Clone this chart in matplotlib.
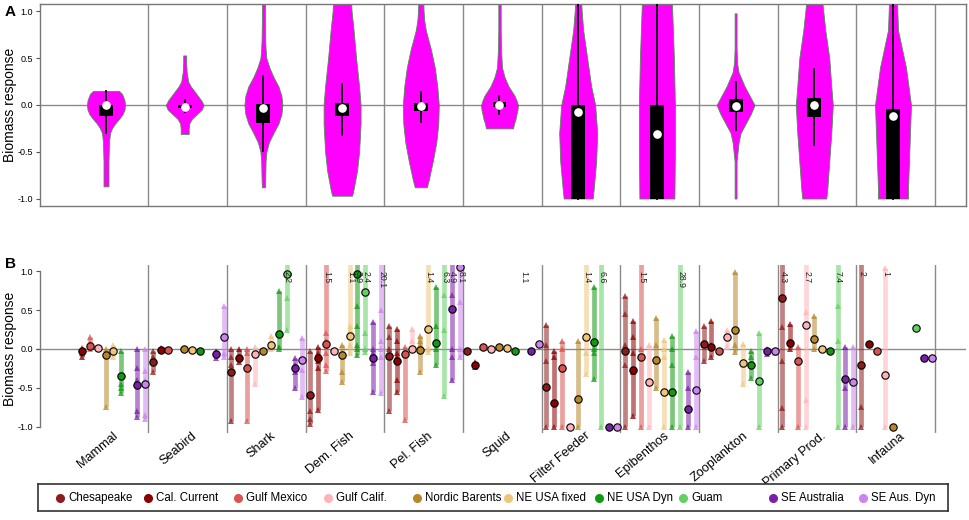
import numpy as np
import matplotlib
matplotlib.use("Agg")
import matplotlib.pyplot as plt

plt.rcParams['font.family'] = ['Liberation Sans', 'DejaVu Sans']

# ---------------- data ----------------
CATEGORIES = ["Mammal", "Seabird", "Shark", "Dem. Fish", "Pel. Fish", "Squid",
              "Filter Feeder", "Epibenthos", "Zooplankton", "Primary Prod.", "Infauna"]
MODELS = ["Chesapeake", "Cal. Current", "Gulf Mexico", "Gulf Calif.", "Nordic Barents",
          "NE USA fixed", "NE USA Dyn", "Guam", "SE Australia", "SE Aus. Dyn"]
MODEL_COLORS = ["#8E1B1B", "#8B0000", "#D9534F", "#FFB3B8", "#B8862B",
                "#EFC57A", "#129912", "#62D062", "#7A1FA8", "#CC85EE"]

# Panel A: violin outlines (response level, relative half-width) per category
VIO_Y = [
    [0.15, 0.12, 0.05, 0.0, -0.05, -0.1, -0.15, -0.2, -0.25, -0.3, -0.4, -0.6, -0.8, -0.87],
    [0.53, 0.45, 0.35, 0.25, 0.2, 0.15, 0.1, 0.05, 0.0, -0.05, -0.1, -0.15, -0.2, -0.25, -0.31],
    [1.1, 0.9, 0.7, 0.6, 0.5, 0.4, 0.3, 0.2, 0.1, 0.0, -0.1, -0.2, -0.3, -0.4, -0.5, -0.6, -0.8, -0.88],
    [1.1, 1.0, 0.8, 0.5, 0.2, 0.0, -0.2, -0.5, -0.7, -0.9, -0.97],
    [1.1, 1.0, 0.9, 0.8, 0.7, 0.6, 0.4, 0.2, 0.0, -0.2, -0.4, -0.6, -0.8, -0.88],
    [1.1, 0.8, 0.6, 0.5, 0.4, 0.3, 0.2, 0.1, 0.05, 0.0, -0.05, -0.1, -0.15, -0.2, -0.25],
    [1.1, 1.0, 0.8, 0.5, 0.2, 0.0, -0.3, -0.6, -0.9, -1.0],
    [1.1, 0.5, 0.0, -0.5, -1.0],
    [0.98, 0.6, 0.45, 0.35, 0.3, 0.2, 0.1, 0.0, -0.1, -0.2, -0.3, -0.4, -0.5, -0.6, -1.0],
    [1.1, 0.8, 0.5, 0.2, 0.0, -0.3, -0.6, -0.9, -1.0],
    [1.1, 0.8, 0.6, 0.4, 0.2, 0.0, -0.3, -0.6, -0.9, -1.0],
]
VIO_W = [
    [13, 16, 18.5, 19, 18.5, 16.5, 13, 9, 6, 4, 3, 2.5, 2.5, 2.5],
    [1.5, 1.5, 2, 3.5, 6, 9.5, 13, 16.5, 19, 17, 12, 7, 4.5, 4, 4],
    [1.5, 1.5, 1.8, 2.2, 3, 6, 10, 15, 18, 19, 18, 15, 10, 5.5, 3, 2.2, 1.8, 1.5],
    [9, 9.5, 11.5, 14, 17, 18.5, 18.5, 17, 15, 11.5, 10],
    [2.5, 2.8, 3.5, 5, 7.5, 10, 14, 16.5, 18, 17.5, 15.5, 12, 8, 6],
    [1.2, 1.2, 1.5, 2, 2.5, 5, 9, 15, 17, 18.5, 18, 17, 16, 14.5, 13.5],
    [3, 3.5, 5, 9, 13, 17, 19, 18, 15.5, 14.5],
    [15, 17, 18, 18, 17.5],
    [1, 1, 1.5, 3, 5, 9, 14, 19, 15, 10, 5, 3, 2, 1, 1],
    [8, 11, 15, 17, 18.5, 17, 15, 13, 12],
    [4, 5, 9, 13, 15.5, 18, 17, 16, 15, 15],
]
BOX_Q1 = [-0.12, -0.035, -0.19, -0.12, -0.06, -0.02, -1.0, -1.0, -0.08, -0.13, -1.0]
BOX_Q3 = [0.0, 0.0, 0.01, 0.02, 0.02, 0.03, 0.0, 0.0, 0.06, 0.08, -0.04]
WHISK_LO = [-0.30, -0.08, -0.49, -0.32, -0.18, -0.10, -1.0, -1.0, -0.27, -0.43, -1.0]
WHISK_HI = [0.15, 0.05, 0.31, 0.22, 0.14, 0.10, 1.5, 1.5, 0.25, 0.38, 1.5]
MEDIANS = [0.0, -0.02, -0.03, -0.03, -0.01, 0.0, -0.08, -0.31, -0.01, 0.0, -0.12]

# Panel B: individual responses per model (None = model absent) and central value
MAMMAL_VALS = [None, [0.01, -0.05, -0.10], [0.15, 0.08, 0.03, 0.0], [0.01], [0.0, -0.75],
               [0.05, -0.02, -0.10], [-0.02, -0.45, -0.5, -0.56], None,
               [0.0, -0.25, -0.4, -0.8, -0.87], [0.0, -0.28, -0.4, -0.85, -0.9]]
MAMMAL_MED = [None, -0.03, 0.04, 0.01, -0.08, -0.03, -0.35, None, -0.46, -0.45]

SEABIRD_VALS = [[-0.02, -0.1, -0.3], [0.01, -0.01], [-0.01], None, [0.0], [-0.01], [-0.02], None,
                [-0.02, -0.12], [0.55, -0.05, -0.1]]
SEABIRD_MED = [-0.17, -0.01, -0.01, None, 0.0, -0.01, -0.02, None, -0.06, 0.15]

SHARK_VALS = [[0.0, -0.1, -0.2, -0.93], [0.0, -0.1, -0.17], [0.0, -0.05, -0.92], [0.02, -0.45],
              [-0.02], [0.17, 0.08, 0.0], [0.74, 0.02, 0.0], [2.2, 0.65, 0.25],
              [-0.12, -0.2, -0.3, -0.5], [0.14, -0.27, -0.62]]
SHARK_MED = [-0.30, -0.12, -0.25, -0.07, -0.03, 0.05, 0.19, 0.96, -0.24, -0.14]

DEMFISH_VALS = [[-0.03, -0.58, -0.8, -0.9, -0.97], [0.02, -0.05, -0.1, -0.15, -0.25, -0.78],
                [1.5, 0.2, 0.1, -0.05, -0.2, -0.28], [-0.03], [0.05, -0.05, -0.3, -0.42],
                [1.1, 0.3, 0.25, 0.05, -0.05], [3.9, 0.55, 0.3, 0.05, 0.0, -0.08],
                [2.4, 0.2, 0.0, -0.04], [0.35, 0.0, -0.05, -0.1, -0.18, -0.55],
                [20.1, 0.5, 0.1, 0.0, -0.1, -0.56]]
DEMFISH_MED = [-0.59, -0.12, 0.07, -0.03, -0.08, 0.17, 0.96, 0.73, -0.11, None]

PELFISH_VALS = [[0.3, 0.15, 0.0, -0.1, -0.8], [0.26, 0.1, -0.05, -0.1, -0.4, -0.55],
                [0.03, -0.05, -0.91], [0.26, 0.1, 0.0], [0.17, 0.1, 0.05, -0.3],
                [1.4, 0.0, -0.04], [0.8, 0.3, 0.0, -0.2], [6.3, 0.7, 0.25, -0.6],
                [4.9, 0.7, 0.0, -0.1, -0.4], [8.1, 0.6, 0.0, -0.1]]
PELFISH_MED = [-0.09, -0.15, -0.07, 0.0, -0.01, 0.26, 0.08, None, 0.51, 1.05]

SQUID_VALS = [[-0.02], [-0.17, -0.23], [0.02], [0.0], [0.03], [0.01], [-0.03], [1.1],
              [-0.03], [0.06]]
SQUID_MED = [-0.02, -0.2, 0.02, 0.0, 0.03, 0.01, -0.03, None, -0.03, 0.06]

FILTER_VALS = [[0.31, 0.05, -0.16, -1.0], [-0.03, -0.1, -1.0], [0.1, 0.0, -1.0], [-1.0],
               [0.1, -1.0], [1.4, -0.05, -0.32], [0.8, 0.1, 0.0, -0.05, -0.38], [6.6, -1.0],
               [-1.0], [-1.0]]
FILTER_MED = [-0.49, -0.70, -0.24, -1.0, -0.64, 0.16, 0.09, None, -1.0, -1.0]

EPIBEN_VALS = [[0.68, 0.45, 0.05, -0.2, -1.0], [0.36, 0.15, -0.05, -0.3, -0.86],
               [1.5, 0.0, -1.0], [0.05, -0.45, -1.0], [0.4, 0.05, -0.15, -0.5],
               [0.12, 0.0, -0.1, -1.0], [0.17, 0.0, -0.2, -1.0], [28.9, -1.0],
               [-0.3, -0.5, -1.0], [0.23, -0.1, -1.0]]
EPIBEN_MED = [-0.02, -0.27, -0.10, -0.43, -0.14, -0.55, -0.55, None, -0.77, -0.53]

ZOOPL_VALS = [[0.29, 0.05, -0.15], [0.36, 0.05, -0.1], [-0.02], [0.25, 0.03],
              [0.99, 0.25, 0.05, -0.04], [0.07, -0.2, -0.45], [-0.03, -0.1, -0.37],
              [0.2, -1.0], [0.0, -0.06], [-0.01, -0.05]]
ZOOPL_MED = [0.07, 0.02, -0.02, 0.15, 0.25, -0.18, -0.20, -0.41, -0.03, -0.03]

PRIMPROD_VALS = [[4.3, 0.28, -0.16, -0.76, -1.0], [0.32, 0.0], [0.02, -1.0],
                 [2.7, 0.47, -0.65, -1.0], [0.42, 0.0], [0.0], [-0.03],
                 [7.4, 0.55, 0.1, -1.0], [0.02, -0.5, -1.0], [0.02, -1.0]]
PRIMPROD_MED = [0.66, 0.08, -0.15, 0.31, 0.13, 0.0, -0.03, None, -0.38, -0.42]

INFAUNA_VALS = [[2.0, -0.75, -1.0], [0.06], [-0.03], [1.04, -1.0], [-1.0], None, None,
                [0.27], [-0.12], [-0.12]]
INFAUNA_MED = [-0.20, 0.06, -0.03, -0.33, -1.0, None, None, 0.27, -0.12, -0.12]

GROUP_VALS = [MAMMAL_VALS, SEABIRD_VALS, SHARK_VALS, DEMFISH_VALS, PELFISH_VALS, SQUID_VALS,
              FILTER_VALS, EPIBEN_VALS, ZOOPL_VALS, PRIMPROD_VALS, INFAUNA_VALS]
GROUP_MED = [MAMMAL_MED, SEABIRD_MED, SHARK_MED, DEMFISH_MED, PELFISH_MED, SQUID_MED,
             FILTER_MED, EPIBEN_MED, ZOOPL_MED, PRIMPROD_MED, INFAUNA_MED]

Y_TICKS = [-1.0, -0.5, 0.0, 0.5, 1.0]
Y_TICKLABELS = ["-1.0", "-0.5", "0.0", "0.5", "1.0"]

# ---------------- layout ----------------
W, H = 970, 520
PXU = 78.7              # pixels per category
fig = plt.figure(figsize=(W / 100, H / 100), dpi=100)

def fx(px):
    return px / W

def fy(py):
    return 1 - py / H

YLIM = (-1.08, 1.08)
GRID_C = "#8a8a8a"
n = len(CATEGORIES)
xs = np.arange(n)
seps = xs + 0.535

# ---------------- Panel A ----------------
axA = fig.add_axes([fx(40), fy(206), fx(926), 202 / H])
axA.set_xlim((40 - 106) / PXU, (966 - 106) / PXU)
axA.set_ylim(*YLIM)
for s in seps:
    axA.axvline(s, color=GRID_C, lw=1.0, zorder=1)
axA.axhline(0, color=GRID_C, lw=1.0, zorder=1)

wscale = 1 / PXU
for i in range(n):
    y = np.array(VIO_Y[i])
    w = np.array(VIO_W[i]) * wscale
    axA.fill_betweenx(y, xs[i] - w, xs[i] + w, facecolor="#FF00FF",
                      edgecolor="#4f8f4f", lw=0.6, zorder=2)
    axA.plot([xs[i], xs[i]], [WHISK_LO[i], WHISK_HI[i]], color="black", lw=1.3, zorder=3)
    bw = 7 / PXU
    axA.fill_between([xs[i] - bw, xs[i] + bw], BOX_Q1[i], BOX_Q3[i],
                     color="black", lw=0, zorder=4)
    axA.plot(xs[i], MEDIANS[i], "o", ms=5.2, mfc="white", mec="white", zorder=5)

axA.set_xticks([])
axA.set_yticks(Y_TICKS)
axA.set_yticklabels(Y_TICKLABELS)
axA.tick_params(axis="y", length=3, width=0.8, color="#555555", pad=2, labelsize=6.5)
for sp in axA.spines.values():
    sp.set_color("#777777")
    sp.set_linewidth(1.0)
axA.set_ylabel("Biomass response", fontsize=10)
axA.yaxis.set_label_coords((17 - 40) / 926, 0.5)
fig.text(fx(5), fy(12), "A", fontsize=11, fontweight="bold", va="center", ha="left")

# ---------------- Panel B ----------------
axB = fig.add_axes([fx(36), fy(433), fx(930), 168 / H])
axB.set_xlim((36 - 106) / PXU, (966 - 106) / PXU)
axB.set_ylim(*YLIM)
for s in seps:
    axB.axvline(s, color=GRID_C, lw=1.0, zorder=1)
axB.axhline(0, color=GRID_C, lw=1.0, zorder=1)

slot0, dslot = -0.407, 0.1004
for g in range(n):
    for k in range(len(MODELS)):
        vals = GROUP_VALS[g][k]
        if vals is None:
            continue
        x = xs[g] + slot0 + dslot * k
        c = MODEL_COLORS[k]
        vmax, vmin = max(vals), min(vals)
        if vmax > vmin:
            axB.plot([x, x], [vmin, vmax], color=c, lw=3.4, alpha=0.55,
                     solid_capstyle="butt", zorder=2)
        shown = [v for v in vals if YLIM[0] <= v <= YLIM[1]]
        axB.plot([x] * len(shown), shown, linestyle="none", marker="^", ms=4.3,
                 color=c, alpha=0.75, mew=0, zorder=3)
        med = GROUP_MED[g][k]
        if med is not None:
            axB.plot(x, med, "o", ms=5.3, mfc=c, mec="black", mew=0.8, zorder=4)
        if vmax > 1.0:
            axB.text(x + 0.01, 1.0, f"{round(vmax, 1):g}", rotation=-90, fontsize=6.3,
                     ha="center", va="top", color="#222222", zorder=5)

for side in ["top", "right", "bottom"]:
    axB.spines[side].set_visible(False)
axB.spines["left"].set_position(("data", (40 - 106) / PXU))
axB.spines["left"].set_bounds(-1.0, 1.0)
axB.spines["left"].set_color("#777777")
axB.spines["left"].set_linewidth(1.0)
axB.set_xticks([])
axB.set_yticks(Y_TICKS)
axB.set_yticklabels(Y_TICKLABELS)
axB.tick_params(axis="y", length=3, width=0.8, color="#555555", pad=2, labelsize=6.5)
axB.set_ylabel("Biomass response", fontsize=10)
axB.yaxis.set_label_coords((17 - 36) / 930, 0.5)
fig.text(fx(5), fy(264), "B", fontsize=11, fontweight="bold", va="center", ha="left")

for g in range(n):
    axB.text(xs[g] + 0.085, -1.04, CATEGORIES[g], rotation=40, rotation_mode="anchor",
             ha="right", va="top", fontsize=9.2, clip_on=False)

# ---------------- Legend ----------------
axL = fig.add_axes([fx(38), fy(511), fx(910), 27 / H])
axL.set_xlim(38, 948)
axL.set_ylim(0, 1)
axL.set_xticks([])
axL.set_yticks([])
for sp in axL.spines.values():
    sp.set_color("#333333")
    sp.set_linewidth(1.2)
leg_x = [60, 148, 238, 328, 417, 508, 599, 683, 773, 863]
for k, name in enumerate(MODELS):
    axL.plot(leg_x[k], 0.5, "o", ms=5.5, color=MODEL_COLORS[k])
    axL.text(leg_x[k] + 8, 0.48, name, fontsize=8.3, va="center", ha="left")

fig.savefig("out.png", dpi=100)
